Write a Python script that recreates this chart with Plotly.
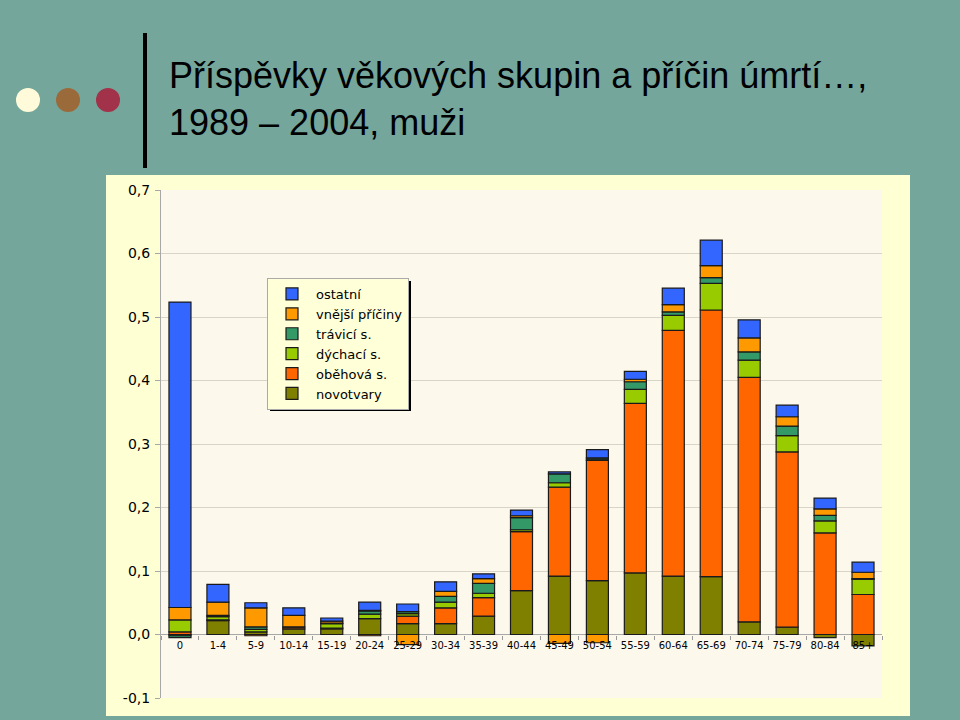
import plotly.graph_objects as go

# ---------------- data ----------------
categories = ["0", "1-4", "5-9", "10-14", "15-19", "20-24", "25-29", "30-34", "35-39",
              "40-44", "45-49", "50-54", "55-59", "60-64", "65-69", "70-74", "75-79",
              "80-84", "85+"]

novotvary = [-0.002, 0.022, 0.004, 0.009, 0.009, 0.025, 0.017, 0.017, 0.029, 0.069,
             0.092, 0.085, 0.097, 0.092, 0.091, 0.020, 0.0115, -0.005, -0.018]
obehova = [0.004, 0.001, -0.002, 0.003, 0.001, -0.002, 0.012, 0.025, 0.029, 0.093,
           0.140, 0.189, 0.267, 0.387, 0.420, 0.385, 0.276, 0.160, 0.063]
dychaci = [0.019, 0.005, 0.004, 0.0, 0.007, 0.007, 0.004, 0.009, 0.007, 0.003,
           0.007, 0.002, 0.022, 0.0235, 0.042, 0.027, 0.0257, 0.019, 0.024]
travici = [-0.003, 0.002, 0.004, 0.0, 0.001, 0.005, 0.003, 0.009, 0.0155, 0.019,
           0.014, 0.002, 0.012, 0.0055, 0.009, 0.013, 0.015, 0.0085, 0.001]
vnejsi = [0.0195, 0.021, 0.030, 0.018, 0.003, 0.001, -0.016, 0.008, 0.0076, 0.003,
          -0.014, -0.013, 0.004, 0.0115, 0.019, 0.022, 0.0147, 0.0104, 0.010]
ostatni = [0.481, 0.028, 0.008, 0.012, 0.005, 0.013, 0.012, 0.015, 0.0074, 0.009,
           0.003, 0.013, 0.0125, 0.026, 0.040, 0.0285, 0.0183, 0.017, 0.016]

series_names = ["novotvary", "oběhová s.", "dýchací s.", "trávicí s.", "vnější příčiny", "ostatní"]
series_values = [novotvary, obehova, dychaci, travici, vnejsi, ostatni]
series_colors = ["#808000", "#FF6600", "#99CC00", "#339966", "#FF9900", "#3366FF"]

ytick_vals = [-0.1, 0.0, 0.1, 0.2, 0.3, 0.4, 0.5, 0.6, 0.7]
ytick_text = ["-0,1", "0,0", "0,1", "0,2", "0,3", "0,4", "0,5", "0,6", "0,7"]

title_text = "Příspěvky věkových skupin a příčin úmrtí…,<br>1989 – 2004, muži"

# ---------------- layout helpers ----------------
PL, PR, PT, PB = 161, 882, 190, 698
W, H = PR - PL, PB - PT


def px(x):
    return (x - PL) / W


def py(y):
    return (PB - y) / H


fig = go.Figure()
for name, vals, col in zip(series_names, series_values, series_colors):
    fig.add_trace(go.Bar(
        x=categories, y=vals, name=name,
        marker=dict(color=col, line=dict(color="#1a1a1a", width=1.2)),
    ))

shapes = [
    # yellow chart panel
    dict(type="rect", xref="paper", yref="paper", x0=px(106), x1=px(910), y0=py(716), y1=py(175),
         fillcolor="#FFFFD4", line=dict(width=0), layer="below"),
    # plot area background
    dict(type="rect", xref="paper", yref="paper", x0=0, x1=1, y0=0, y1=1,
         fillcolor="#FDF8EC", line=dict(width=0), layer="below"),
    # vertical title bar
    dict(type="line", xref="paper", yref="paper", x0=px(145), x1=px(145), y0=py(33), y1=py(168),
         line=dict(color="black", width=4)),
    # legend shadow
    dict(type="rect", xref="paper", yref="paper", x0=px(270), x1=px(411), y0=py(411), y1=py(281),
         fillcolor="black", line=dict(width=0), layer="above"),
]
# decorative dots
for cx, col in [(28, "#FFFBDA"), (68, "#9A6A3A"), (108, "#A2314A")]:
    shapes.append(dict(type="circle", xref="paper", yref="paper",
                       x0=px(cx - 12), x1=px(cx + 12), y0=py(100 + 12), y1=py(100 - 12),
                       fillcolor=col, line=dict(width=0)))

fig.update_layout(
    width=960, height=720,
    margin=dict(l=PL, r=960 - PR, t=PT, b=720 - PB),
    paper_bgcolor="#75A69B",
    plot_bgcolor="rgba(0,0,0,0)",
    barmode="relative",
    bargap=0.42,
    shapes=shapes,
    showlegend=True,
    legend=dict(
        x=px(267), y=py(278), xanchor="left", yanchor="top",
        bgcolor="#FFFFD8", bordercolor="#AAAAAA", borderwidth=1,
        font=dict(family="DejaVu Sans", size=13, color="black"),
        traceorder="reversed", itemwidth=38,
    ),
    annotations=[dict(
        text=title_text, xref="paper", yref="paper", x=px(167), y=py(53),
        xanchor="left", yanchor="top", align="left", showarrow=False,
        font=dict(family="Liberation Sans, Arial", size=36, color="black"),
    )],
    xaxis=dict(
        anchor="free", position=0.125,
        showline=False, showgrid=False,
        ticks="outside", tickson="boundaries", ticklen=4, tickcolor="#999999",
        tickfont=dict(family="DejaVu Sans", size=10, color="black"),
        tickangle=0, ticklabelstandoff=3,
    ),
    yaxis=dict(
        range=[-0.1, 0.7], tickvals=ytick_vals, ticktext=ytick_text,
        showgrid=True, gridcolor="#D8D4C8", gridwidth=1,
        zeroline=True, zerolinecolor="#A8A8A8", zerolinewidth=1,
        showline=True, linecolor="#A8A8A8", linewidth=1,
        ticks="outside", ticklen=5, tickcolor="#A8A8A8",
        tickfont=dict(family="DejaVu Sans", size=14, color="black"),
        ticklabelstandoff=2,
    ),
)

fig.write_html("out.html", config={"displayModeBar": False},
               post_script="document.body.style.margin='0px';")
